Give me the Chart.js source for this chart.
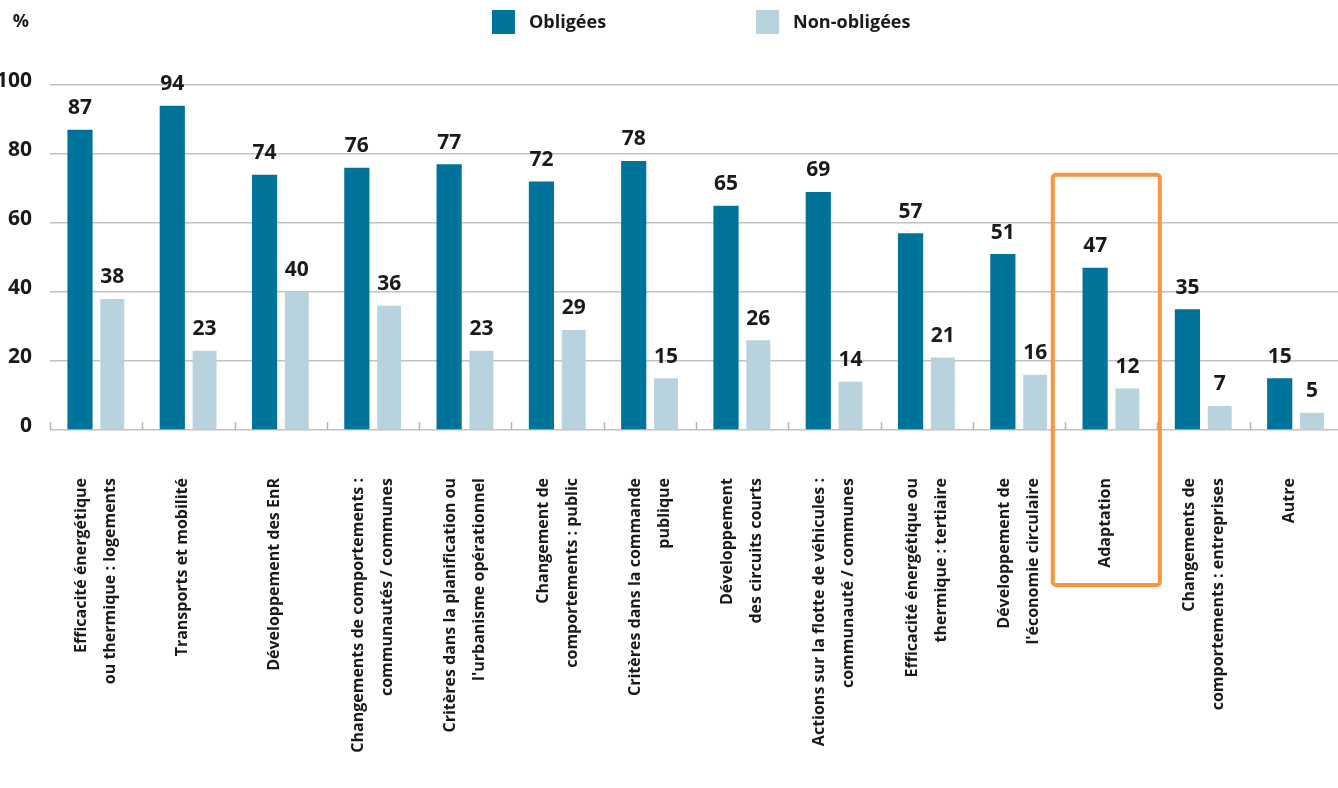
<!DOCTYPE html>
<html>
<head>
<meta charset="utf-8">
<script src="https://cdn.jsdelivr.net/npm/chart.js@4"></script>
<style>
  html, body { margin: 0; padding: 0; background: #fff; overflow: hidden; }
  #wrap { position: absolute; left: -10px; top: 0; width: 1360px; height: 788px; }
</style>
</head>
<body>
<div id="wrap"><canvas id="myChart"></canvas></div>
<script>
var categories = [
  ["Efficacité énergétique", "ou thermique : logements"],
  ["Transports et mobilité"],
  ["Développement des EnR"],
  ["Changements de comportements :", "communautés / communes"],
  ["Critères dans la planification ou", "l'urbanisme opérationnel"],
  ["Changement de", "comportements : public"],
  ["Critères dans la commande", "publique"],
  ["Développement", "des circuits courts"],
  ["Actions sur la flotte de véhicules :", "communauté / communes"],
  ["Efficacité énergétique ou", "thermique : tertiaire"],
  ["Développement de", "l'économie circulaire"],
  ["Adaptation"],
  ["Changements de", "comportements : entreprises"],
  ["Autre"]
];
var obligees = [87, 94, 74, 76, 77, 72, 78, 65, 69, 57, 51, 47, 35, 15];
var nonObligees = [38, 23, 40, 36, 23, 29, 15, 26, 14, 21, 16, 12, 7, 5];
var yTicks = [0, 20, 40, 60, 80, 100];
var highlightIndex = 11;

var FONT = "'Open Sans', 'DejaVu Sans', sans-serif";
var darkBlue = '#00739a';
var lightBlue = '#b8d3dd';

// chart.js puts the first line of a rotated label on the tick, so single
// lines get an empty first line with a small line height to sit centred
var tickLabels = categories.map(function(l) { return l.length > 1 ? l : [''].concat(l); });

// numbers above the bars
var valueLabels = {
  id: 'valueLabels',
  afterDatasetsDraw: function(chart) {
    var ctx = chart.ctx;
    ctx.save();
    ctx.font = 'bold 21px ' + FONT;
    ctx.fillStyle = '#1a1a1a';
    ctx.textAlign = 'center';
    ctx.textBaseline = 'bottom';
    chart.data.datasets.forEach(function(ds, i) {
      chart.getDatasetMeta(i).data.forEach(function(bar, j) {
        ctx.fillText(ds.data[j], bar.x, bar.y - 11);
      });
    });
    ctx.restore();
  }
};

// legend, % sign, category ticks, orange box
var extras = {
  id: 'extras',
  afterDraw: function(chart) {
    var ctx = chart.ctx;
    var area = chart.chartArea;
    var xs = chart.scales.x, ys = chart.scales.y;
    ctx.save();

    // legend
    ctx.font = 'bold 18px ' + FONT;
    ctx.textBaseline = 'middle';
    ctx.textAlign = 'left';
    var lx = area.left + 442;
    chart.data.datasets.forEach(function(ds) {
      ctx.fillStyle = ds.backgroundColor;
      ctx.fillRect(lx, 10, 23, 24);
      ctx.fillStyle = '#1a1a1a';
      ctx.fillText(ds.label, lx + 37, 23);
      lx += 37 + ctx.measureText(ds.label).width + 150;
    });

    // % unit
    ctx.textAlign = 'right';
    ctx.fillText('%', area.left - 21, 22);

    // small ticks between categories
    var step = (area.right - area.left) / categories.length;
    ctx.strokeStyle = '#b5b5b5';
    ctx.lineWidth = 1.5;
    for (var i = 0; i <= categories.length; i++) {
      var x = Math.round(area.left + i * step) + 0.5;
      ctx.beginPath();
      ctx.moveTo(x, area.bottom - 8);
      ctx.lineTo(x, area.bottom);
      ctx.stroke();
    }

    // highlight box, slightly left of the category centre like the original
    var cx = xs.getPixelForValue(highlightIndex) - 5;
    var half = step * 0.58;
    var top = ys.getPixelForValue(74);
    var bottom = area.bottom + 155;
    ctx.strokeStyle = '#f7963f';
    ctx.lineWidth = 4;
    ctx.beginPath();
    ctx.roundRect(cx - half, top, half * 2, bottom - top, 3);
    ctx.stroke();

    ctx.restore();
  }
};

var ctx = document.getElementById('myChart').getContext('2d');
var myChart = new Chart(ctx, {
  type: 'bar',
  data: {
    labels: tickLabels,
    datasets: [{
      label: 'Obligées',
      data: obligees,
      backgroundColor: darkBlue,
      categoryPercentage: 0.7,
      barPercentage: 0.78
    }, {
      label: 'Non-obligées',
      data: nonObligees,
      backgroundColor: lightBlue,
      categoryPercentage: 0.7,
      barPercentage: 0.74
    }]
  },
  options: {
    responsive: true,
    maintainAspectRatio: false,
    animation: false,
    layout: { padding: { top: 85, left: 10, right: 8, bottom: 0 } },
    plugins: {
      legend: { display: false },
      tooltip: { enabled: false }
    },
    scales: {
      x: {
        grid: { display: false },
        border: { display: false },
        ticks: {
          autoSkip: false,
          minRotation: 90,
          maxRotation: 90,
          padding: 40,
          labelOffset: -14.5,
          color: '#1a1a1a',
          font: function(c) {
            var multi = categories[c.index] && categories[c.index].length > 1;
            return { family: FONT, size: 16, weight: 'bold', lineHeight: multi ? '29px' : '8.5px' };
          }
        },
        afterFit: function(scale) {
          scale.height = 358;
          scale.paddingLeft = 0;
          scale.paddingRight = 0;
        }
      },
      y: {
        min: 0,
        max: 100,
        afterBuildTicks: function(scale) {
          scale.ticks = yTicks.map(function(v) { return { value: v }; });
        },
        grid: { color: '#c2c2c2', lineWidth: 1.5, drawTicks: false },
        border: { display: false },
        ticks: {
          padding: 18,
          labelOffset: -4,
          color: '#1a1a1a',
          font: { family: FONT, size: 21, weight: 'bold' }
        },
        afterFit: function(scale) { scale.width = 50; }
      }
    }
  },
  plugins: [valueLabels, extras]
});
</script>
</body>
</html>
